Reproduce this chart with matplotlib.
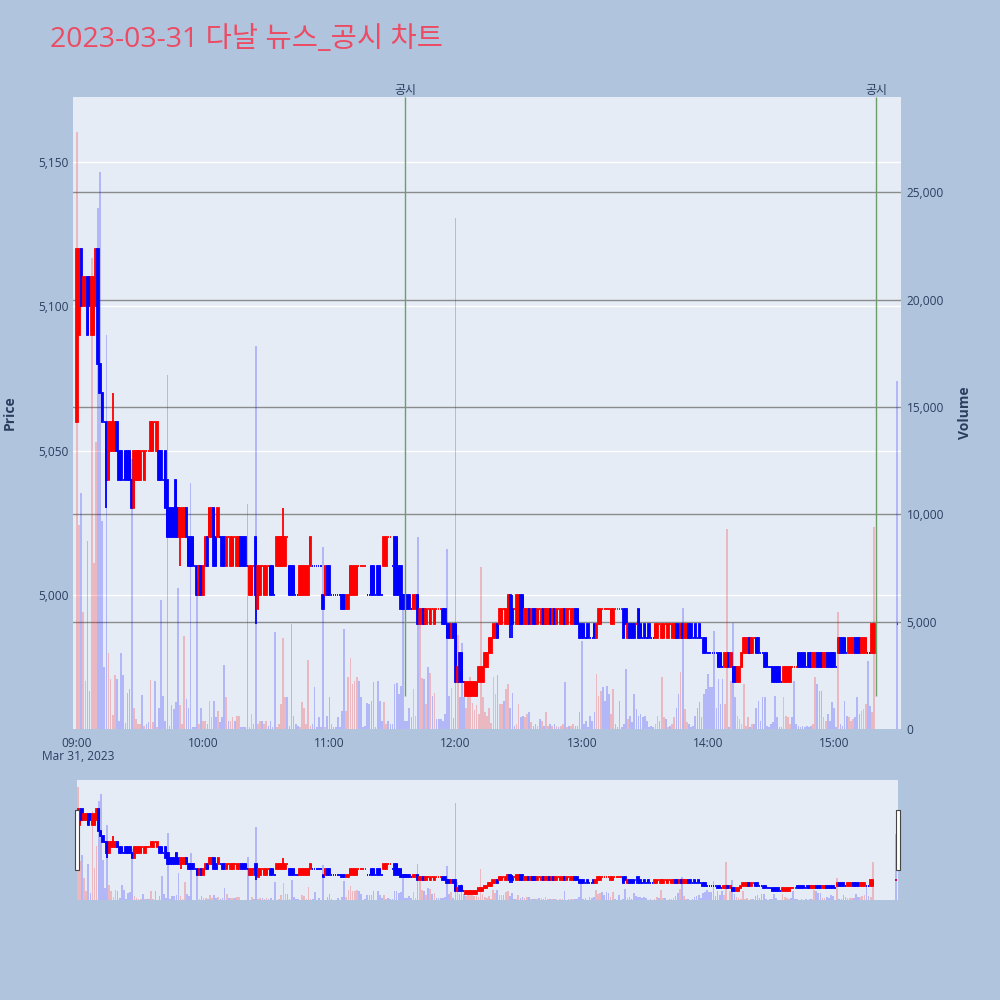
"""Minute candles and volume for 다날 on 2023-03-31, with the disclosure markers."""

import matplotlib

matplotlib.use("Agg")
import matplotlib.pyplot as plt
import numpy as np
from matplotlib.patches import Rectangle
from matplotlib.ticker import FuncFormatter

plt.rcParams["font.family"] = ["Open Sans", "Noto Sans CJK KR", "DejaVu Sans"]

TITLE = "2023-03-31 다날 뉴스_공시 차트"
DATE_LABEL = "Mar 31, 2023"

# minutes after 09:00: regular session 09:00-15:19, closing auction at 15:30
minutes = list(range(380)) + [390]

opens = [
    5060, 5090, 5120, 5100, 5100, 5110, 5110, 5090, 5090, 5100,
    5120, 5080, 5070, 5060, 5060, 5040, 5050, 5050, 5050, 5060,
    5050, 5050, 5040, 5050, 5050, 5050, 5040, 5030, 5040, 5040,
    5040, 5050, 5040, 5050, 5050, 5050, 5050, 5060, 5050, 5050,
    5050, 5040, 5050, 5040, 5030, 5030, 5030, 5040, 5030, 5020,
    5020, 5020, 5030, 5020, 5020, 5020, 5010, 5010, 5000, 5010,
    5000, 5010, 5020, 5020, 5020, 5030, 5020, 5020, 5020, 5020,
    5020, 5010, 5020, 5010, 5010, 5020, 5010, 5010, 5020, 5020,
    5020, 5010, 5000, 5000, 5010, 5020, 4995, 5000, 5010, 5000,
    5000, 5010, 5010, 5010, 5000, 5010, 5010, 5010, 5010, 5010,
    5020, 5010, 5010, 5010, 5000, 5000, 5000, 5000, 5000, 5000,
    5000, 5010, 5010, 5010, 5010, 5010, 5010, 5000, 5000, 5010,
    5010, 5000, 5000, 5000, 5000, 5000, 5000, 5000, 4995, 4995,
    5000, 5000, 5000, 5000, 5010, 5010, 5010, 5010, 5000, 5000,
    5010, 5010, 5000, 5010, 5010, 5000, 5010, 5010, 5020, 5020,
    5010, 5020, 5020, 5010, 5010, 5000, 5000, 5000, 5000, 4995,
    4995, 4995, 5000, 4990, 4990, 4995, 4990, 4995, 4990, 4995,
    4990, 4995, 4995, 4995, 4995, 4995, 4990, 4990, 4985, 4990,
    4990, 4970, 4980, 4980, 4970, 4965, 4965, 4965, 4965, 4965,
    4965, 4970, 4970, 4970, 4975, 4975, 4980, 4980, 4985, 4985,
    4990, 4990, 4990, 4995, 4990, 4990, 5000, 4995, 4995, 4990,
    4990, 5000, 5000, 4990, 4990, 4995, 4990, 4995, 4995, 4990,
    4995, 4990, 4995, 4990, 4990, 4995, 4990, 4995, 4990, 4995,
    4990, 4990, 4995, 4990, 4995, 4990, 4990, 4995, 4995, 4990,
    4990, 4990, 4985, 4990, 4985, 4985, 4990, 4985, 4990, 4990,
    4995, 4995, 4995, 4995, 4990, 4990, 4995, 4995, 4995, 4995,
    4995, 4995, 4985, 4990, 4990, 4990, 4990, 4995, 4990, 4985,
    4990, 4985, 4990, 4985, 4985, 4985, 4985, 4990, 4985, 4985,
    4990, 4985, 4990, 4985, 4985, 4990, 4990, 4985, 4990, 4985,
    4985, 4990, 4990, 4985, 4990, 4985, 4990, 4985, 4985, 4985,
    4980, 4980, 4980, 4980, 4980, 4980, 4980, 4975, 4975, 4975,
    4980, 4975, 4975, 4975, 4970, 4970, 4975, 4980, 4980, 4980,
    4985, 4980, 4985, 4985, 4985, 4980, 4980, 4980, 4980, 4975,
    4975, 4975, 4975, 4975, 4975, 4970, 4970, 4970, 4970, 4970,
    4975, 4975, 4975, 4980, 4980, 4980, 4980, 4975, 4980, 4980,
    4975, 4975, 4980, 4980, 4980, 4975, 4975, 4980, 4980, 4980,
    4980, 4975, 4980, 4985, 4985, 4985, 4980, 4980, 4980, 4980,
    4985, 4985, 4985, 4980, 4980, 4980, 4980, 4980, 4980, 4980,
    4990,
]

closes = [
    5120, 5120, 5100, 5110, 5110, 5090, 5100, 5110, 5110, 5120,
    5080, 5070, 5060, 5060, 5040, 5060, 5060, 5060, 5060, 5050,
    5040, 5040, 5040, 5040, 5040, 5040, 5030, 5050, 5050, 5050,
    5050, 5050, 5050, 5050, 5050, 5060, 5060, 5060, 5060, 5040,
    5040, 5040, 5030, 5020, 5020, 5020, 5020, 5020, 5020, 5030,
    5030, 5030, 5020, 5010, 5010, 5010, 5010, 5000, 5010, 5000,
    5010, 5020, 5010, 5030, 5030, 5010, 5010, 5030, 5020, 5010,
    5010, 5020, 5020, 5020, 5020, 5020, 5020, 5020, 5010, 5010,
    5010, 5010, 5010, 5010, 5010, 5000, 5010, 5010, 5010, 5010,
    5010, 5010, 5000, 5000, 5000, 5020, 5020, 5020, 5020, 5020,
    5020, 5000, 5000, 5000, 5000, 5000, 5010, 5010, 5010, 5010,
    5010, 5020, 5010, 5010, 5010, 5010, 5010, 4995, 5010, 5000,
    5000, 5000, 5000, 5000, 5000, 5000, 4995, 4995, 5000, 5000,
    5010, 5010, 5010, 5010, 5010, 5010, 5010, 5010, 5000, 5000,
    5000, 5000, 5000, 5000, 5000, 5000, 5020, 5020, 5020, 5020,
    5010, 5000, 5000, 5000, 4995, 4995, 4995, 4995, 4995, 4995,
    5000, 5000, 4990, 4995, 4995, 4990, 4995, 4995, 4995, 4995,
    4995, 4995, 4995, 4995, 4990, 4990, 4985, 4985, 4990, 4985,
    4970, 4975, 4970, 4970, 4970, 4970, 4970, 4970, 4970, 4970,
    4970, 4975, 4975, 4975, 4980, 4980, 4985, 4985, 4990, 4990,
    4985, 4995, 4995, 4995, 4995, 5000, 4990, 4990, 4995, 5000,
    5000, 4990, 4990, 4995, 4995, 4990, 4995, 4990, 4990, 4995,
    4995, 4995, 4990, 4995, 4995, 4990, 4995, 4990, 4995, 4995,
    4995, 4995, 4990, 4995, 4995, 4995, 4995, 4990, 4990, 4985,
    4985, 4985, 4985, 4985, 4985, 4985, 4985, 4990, 4995, 4995,
    4995, 4995, 4995, 4995, 4995, 4995, 4995, 4995, 4995, 4995,
    4985, 4990, 4990, 4985, 4985, 4985, 4990, 4985, 4985, 4985,
    4985, 4985, 4985, 4985, 4985, 4990, 4990, 4990, 4990, 4990,
    4990, 4990, 4990, 4990, 4990, 4985, 4985, 4990, 4985, 4990,
    4990, 4985, 4985, 4985, 4985, 4985, 4985, 4985, 4980, 4980,
    4980, 4980, 4980, 4980, 4980, 4975, 4975, 4975, 4980, 4980,
    4975, 4980, 4970, 4970, 4975, 4975, 4980, 4985, 4985, 4985,
    4980, 4985, 4985, 4980, 4980, 4980, 4980, 4975, 4975, 4975,
    4975, 4970, 4970, 4970, 4970, 4970, 4975, 4975, 4975, 4975,
    4975, 4975, 4975, 4975, 4975, 4975, 4975, 4975, 4975, 4975,
    4980, 4980, 4975, 4975, 4975, 4980, 4980, 4975, 4975, 4975,
    4975, 4975, 4985, 4980, 4980, 4980, 4980, 4985, 4985, 4985,
    4980, 4980, 4980, 4985, 4985, 4985, 4980, 4980, 4990, 4990,
    4990,
]

# shadows that reach past the candle body
high_wicks = {17: 5070, 98: 5030, 207: 5000}
low_wicks = {14: 5030, 49: 5010, 85: 4990, 206: 4985, 207: 4985}

volumes = [
    27840, 9500, 11000, 5450, 2240, 8750, 1770, 21950, 7740, 13370,
    24280, 25950, 9700, 2900, 18360, 3560, 2330, 650, 2500, 2330,
    390, 3560, 2500, 300, 1700, 1860, 12600, 1000, 465, 230,
    230, 1580, 155, 230, 310, 2300, 310, 2250, 80, 1000,
    6000, 1550, 390, 16500, 155, 1100, 930, 1240, 6570, 1100,
    230, 4330, 1400, 1000, 11460, 80, 80, 7000, 230, 1000,
    390, 390, 230, 1300, 540, 1300, 540, 850, 310, 540,
    3000, 1470, 390, 390, 540, 390, 620, 620, 80, 80,
    80, 10500, 80, 700, 230, 17850, 230, 390, 390, 230,
    390, 155, 390, 80, 4500, 80, 230, 1160, 4260, 1470,
    1470, 155, 4900, 620, 230, 155, 80, 1240, 1000, 230,
    3200, 155, 230, 1940, 80, 540, 80, 8500, 80, 620,
    1470, 230, 80, 80, 540, 80, 850, 4650, 850, 2400,
    3330, 2100, 2250, 2400, 2250, 1470, 80, 155, 1200, 1160,
    1300, 2200, 80, 2250, 1300, 390, 1240, 230, 390, 230,
    230, 2090, 2140, 1630, 2000, 6200, 390, 390, 1000, 540,
    1860, 600, 8950, 5200, 2360, 2330, 1160, 2900, 2600, 1550,
    1680, 465, 465, 465, 390, 700, 8400, 1550, 1900, 500,
    23800, 4400, 1500, 4000, 1500, 1000, 1800, 2400, 1200, 900,
    1100, 700, 7550, 1500, 800, 600, 1000, 300, 2400, 1630,
    2500, 1160, 1160, 1300, 1860, 2100, 1000, 1700, 155, 230,
    1160, 540, 620, 540, 700, 780, 310, 155, 230, 155,
    465, 390, 155, 780, 155, 230, 155, 230, 155, 80,
    155, 230, 2170, 80, 155, 155, 230, 155, 155, 780,
    4100, 230, 390, 80, 620, 390, 780, 2560, 1550, 1780,
    1940, 1320, 2020, 1630, 700, 1860, 230, 80, 1320, 80,
    230, 2800, 465, 620, 310, 1630, 930, 620, 700, 540,
    620, 390, 80, 155, 80, 230, 620, 390, 2400, 540,
    465, 80, 155, 230, 540, 1000, 1630, 2640, 5660, 930,
    310, 230, 80, 155, 620, 1000, 1240, 540, 1630, 1860,
    2560, 1940, 1940, 4570, 1000, 2330, 1160, 2330, 1160, 9300,
    80, 2250, 4960, 1470, 620, 465, 230, 2090, 155, 540,
    80, 230, 230, 1000, 1300, 390, 1470, 1470, 155, 80,
    230, 310, 1550, 540, 80, 80, 1470, 620, 540, 230,
    540, 2250, 230, 155, 80, 155, 80, 155, 80, 155,
    230, 2400, 2090, 1780, 1780, 540, 390, 700, 390, 1240,
    1000, 80, 5450, 230, 155, 1320, 620, 540, 390, 465,
    540, 1470, 700, 850, 930, 1160, 3180, 1080, 780, 9400,
    16200,
]

disclosure_minutes = [156, 380]  # 11:36 and 15:20
disclosure_label = "공시"

price_ticks = [5000, 5050, 5100, 5150]
volume_ticks = [0, 5000, 10000, 15000, 20000, 25000]
time_ticks = [0, 60, 120, 180, 240, 300, 360]

PRICE_RANGE = (4953.6, 5172.5)
VOLUME_RANGE = (0, 29450)

PAPER = "#B0C4DE"
PLOT_BG = "#E5ECF6"
TEXT = "#2A3F5F"
UP = "#FF0000"
DOWN = "#0000FF"


def candle_directions(o, c):
    # plotly rule: a flat candle takes its colour from the move against the previous close
    up, prev_close, state = [], None, True
    for oi, ci in zip(o, c):
        if ci == oi:
            if prev_close is not None and ci != prev_close:
                state = ci > prev_close
        else:
            state = ci > oi
        up.append(state)
        prev_close = ci
    return up


def volume_directions(o, c):
    # volume bar is red only for a rising minute; flat and falling minutes are blue
    return [ci > oi for oi, ci in zip(o, c)]


def draw_candles(ax, x, o, h, l, c, up):
    colors = [UP if u else DOWN for u in up]
    ax.vlines(x, l, h, colors=colors, linewidth=1.3, zorder=3)
    ax.bar(x, np.array(c) - np.array(o), bottom=o, width=0.6, color=colors,
           edgecolor=colors, linewidth=1.3, zorder=3)


def draw_volume(ax, x, v, up):
    colors = [UP if u else DOWN for u in up]
    ax.bar(x, v, width=0.8, color=colors, alpha=0.22, linewidth=0, zorder=2)


def hhmm(value, _pos=None):
    h, m = divmod(540 + int(round(value)), 60)
    return f"{h:02d}:{m:02d}"


def main():
    highs = [max(o, c, high_wicks.get(i, o)) for i, (o, c) in enumerate(zip(opens, closes))]
    lows = [min(o, c, low_wicks.get(i, o)) for i, (o, c) in enumerate(zip(opens, closes))]
    up = candle_directions(opens, closes)
    vol_up = volume_directions(opens, closes)

    fig = plt.figure(figsize=(10, 10), dpi=100, facecolor=PAPER)
    fig.text(0.05, 0.96, TITLE, fontsize=20.5, color="#EB4C63", va="center", ha="left",
             family=["Open Sans", "Noto Sans CJK KR", "DejaVu Sans"])

    ax = fig.add_axes([0.073, 0.271, 0.828, 0.632], facecolor=PLOT_BG)
    ax.set_xlim(-1.9, 391.8)
    ax.set_ylim(*PRICE_RANGE)
    ax.set_axisbelow(True)
    ax.yaxis.grid(True, color="white", linewidth=1)
    for v in volume_ticks[1:]:
        ax.plot([0, 1], [v / VOLUME_RANGE[1]] * 2, transform=ax.transAxes,
                color="#8C8C8C", linewidth=1, zorder=1)
    draw_candles(ax, minutes, opens, highs, lows, closes, up)

    ax.set_yticks(price_ticks)
    ax.yaxis.set_major_formatter(FuncFormatter(lambda v, _: f"{v:,.0f}"))
    ax.set_xticks(time_ticks)
    ax.xaxis.set_major_formatter(FuncFormatter(hhmm))
    ax.tick_params(axis="both", length=0, labelsize=8.6, labelcolor=TEXT)
    ax.tick_params(axis="x", pad=6)
    ax.tick_params(axis="y", pad=3)
    for s in ax.spines.values():
        s.set_visible(False)

    low_all = min(lows)
    for m in disclosure_minutes:
        ax.vlines(m, low_all, PRICE_RANGE[1], colors="#6A9F6A", linewidth=1, zorder=4)
        ax.text(m, 1.0, disclosure_label, transform=ax.get_xaxis_transform(),
                ha="center", va="bottom", fontsize=8.6, color=TEXT)

    axv = ax.twinx()
    axv.set_ylim(*VOLUME_RANGE)
    draw_volume(axv, minutes, volumes, vol_up)
    axv.set_yticks(volume_ticks)
    axv.yaxis.set_major_formatter(FuncFormatter(lambda v, _: f"{v:,.0f}"))
    axv.tick_params(axis="y", length=0, labelsize=8.6, labelcolor=TEXT, pad=4)
    for s in axv.spines.values():
        s.set_visible(False)

    fig.text(0.078, 0.243, DATE_LABEL, ha="center", va="center", fontsize=8.6, color=TEXT)
    fig.text(0.010, 0.587, "Price", rotation=90, ha="center", va="center",
             fontsize=10, fontweight="bold", color=TEXT)
    fig.text(0.965, 0.587, "Volume", rotation=90, ha="center", va="center",
             fontsize=10, fontweight="bold", color=TEXT)

    # range slider
    axs = fig.add_axes([0.0765, 0.10, 0.8215, 0.12], facecolor=PLOT_BG)
    axs.set_xlim(-0.6, 391)
    axs.set_ylim(*PRICE_RANGE)
    draw_candles(axs, minutes, opens, highs, lows, closes, up)
    axsv = axs.twinx()
    axsv.set_ylim(*VOLUME_RANGE)
    draw_volume(axsv, minutes, volumes, vol_up)
    for a in (axs, axsv):
        a.set_xticks([])
        a.set_yticks([])
        for s in a.spines.values():
            s.set_visible(False)
    for left in (0.0745, 0.896):
        fig.patches.append(Rectangle((left, 0.13), 0.004, 0.06, transform=fig.transFigure,
                                     facecolor="white", edgecolor="#444444", linewidth=0.8))

    fig.savefig("out.png", dpi=100, facecolor=PAPER)
    plt.close(fig)


if __name__ == "__main__":
    main()
